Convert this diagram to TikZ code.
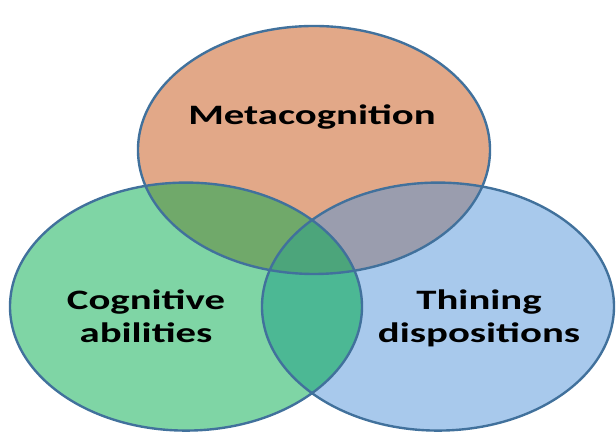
\documentclass[tikz,border=0pt]{standalone}
\usepackage{fontspec}
\setsansfont{Carlito}
\usetikzlibrary{positioning}

\definecolor{metaorange}{HTML}{E2A888}
\definecolor{coggreen}{HTML}{7FD5A5}
\definecolor{dispblue}{HTML}{A8C9EC}
\definecolor{mcmix}{HTML}{70A96A}
\definecolor{mdmix}{HTML}{9A9DAE}
\definecolor{cdmix}{HTML}{4CB894}
\definecolor{allmix}{HTML}{4CA57B}
\definecolor{ringline}{HTML}{41719C}

% the three sets
\newcommand{\metaset}{(7.85,7.375) ellipse [x radius=4.4, y radius=3.1]}
\newcommand{\cogset}{(4.65,3.46) ellipse [x radius=4.4, y radius=3.1]}
\newcommand{\dispset}{(10.95,3.46) ellipse [x radius=4.4, y radius=3.1]}

\begin{document}
\begin{tikzpicture}[x=1cm,y=1cm]
\tikzset{
  ring/.style={draw=ringline,line width=1.7pt},
  setlabel/.style={font=\sffamily\bfseries\fontsize{20}{24}\selectfont,text=black,
    align=center,inner sep=0pt,anchor=base,xscale=1.45}
}
\useasboundingbox (0,0) rectangle (15.4,11.125);
% plain fills
\fill[metaorange] \metaset;
\fill[coggreen] \cogset;
\fill[dispblue] \dispset;
% overlaps
\begin{scope}
  \clip \metaset;
  \fill[mcmix] \cogset;
  \fill[mdmix] \dispset;
\end{scope}
\begin{scope}
  \clip \cogset;
  \fill[cdmix] \dispset;
  \clip \metaset;
  \fill[allmix] \dispset;
\end{scope}
% outlines
\draw[ring] \metaset;
\draw[ring] \cogset;
\draw[ring] \dispset;
% labels (base = last line)
\node[setlabel] (meta) at (7.8,8.0) {Metacognition};
\node[setlabel] (cog) at (3.65,2.55) {Cognitive\\abilities};
\node[setlabel] (disp) at (11.975,2.55) {Thining\\dispositions};
\end{tikzpicture}
\end{document}
